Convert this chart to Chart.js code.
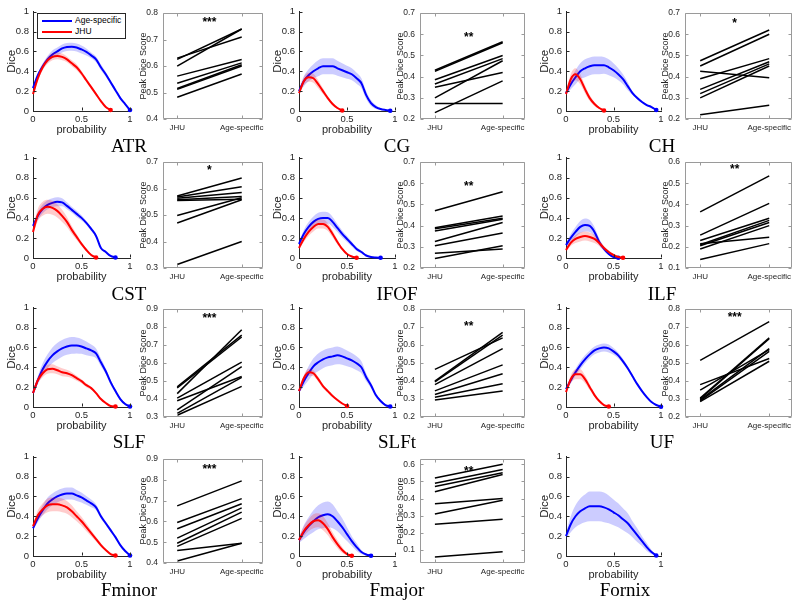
<!DOCTYPE html>
<html><head><meta charset="utf-8">
<script src="https://cdn.jsdelivr.net/npm/chart.js@4/dist/chart.umd.min.js"></script>
<style>
html,body{margin:0;padding:0;background:#fff}
body{width:800px;height:605px;overflow:hidden;position:relative;font-family:"Liberation Sans",Arial,Helvetica,sans-serif}
canvas{position:absolute}
.ttl{position:absolute;font-family:"Liberation Serif","Times New Roman",serif;font-size:19px;color:#000;transform:translate(-50%,-50%);white-space:nowrap;line-height:1}
#legend{position:absolute;left:37px;top:13px;width:87px;height:24px;border:1px solid #262626;background:#fff;z-index:5;font-size:8.5px;color:#000}
#legend .it{position:absolute;left:4px;height:10px;width:82px}
#legend .ln{position:absolute;left:0;top:5px;width:30px;height:2px}
#legend .tx{position:absolute;left:33px;top:0;line-height:11px;white-space:nowrap}
</style></head><body>
<div id="legend">
  <div class="it" style="top:1px"><div class="ln" style="background:#0000ff"></div><div class="tx">Age-specific</div></div>
  <div class="it" style="top:12px"><div class="ln" style="background:#ff0000"></div><div class="tx">JHU</div></div>
</div>
<script>
// ---------- data ----------
const prob = [0,0.05,0.1,0.15,0.2,0.25,0.3,0.35,0.4,0.45,0.5,0.55,0.6,0.65,0.7,0.75,0.8,0.85,0.9,0.95,1];
const diceTicks = [0,0.2,0.4,0.6,0.8,1];
const diceTickLabels = ['0','0.2','0.4','0.6','0.8','1'];
const probTicks = [0,0.5,1];
const probTickLabels = ['0','0.5','1'];
const groupTicks = [1,2];
const groupLabels = ['JHU','Age-specific'];

const atrAge   = [.23,.36,.45,.52,.57,.60,.63,.645,.648,.64,.62,.595,.56,.52,.44,.37,.29,.21,.13,.07,.01];
const atrAgeSd = [.01,.02,.03,.035,.04,.04,.04,.04,.04,.04,.04,.035,.03,.03,.03,.025,.02,.02,.015,.01,.005];
const atrJhu   = [.17,.33,.44,.51,.545,.555,.545,.52,.48,.44,.38,.31,.24,.17,.10,.04,.01];
const atrJhuSd = [.01,.03,.03,.035,.035,.035,.035,.03,.03,.03,.025,.02,.02,.015,.01,.008,.005];

const cgAge   = [.20,.30,.36,.40,.43,.45,.45,.45,.43,.41,.39,.37,.33,.28,.16,.08,.04,.02,.01,.003];
const cgAgeSd = [.02,.05,.06,.07,.08,.08,.08,.08,.075,.07,.065,.06,.055,.05,.04,.03,.02,.01,.005,.003];
const cgJhu   = [.18,.30,.34,.33,.27,.20,.13,.07,.03,.005];
const cgJhuSd = [.02,.04,.045,.045,.04,.03,.02,.015,.01,.005];

const chAge   = [.18,.27,.34,.40,.43,.45,.46,.46,.46,.44,.41,.37,.32,.25,.18,.13,.09,.06,.04,.01];
const chAgeSd = [.02,.05,.07,.08,.09,.09,.09,.09,.085,.08,.07,.06,.05,.04,.02,.015,.01,.01,.008,.005];
const chJhu   = [.17,.32,.37,.32,.22,.13,.07,.03,.005];
const chJhuSd = [.02,.05,.06,.05,.04,.03,.02,.01,.005];

const cstAge   = [.32,.42,.49,.53,.55,.56,.555,.52,.48,.44,.40,.35,.29,.22,.10,.06,.02,.005];
const cstAgeSd = [.02,.04,.045,.045,.045,.045,.04,.035,.03,.03,.025,.02,.02,.015,.01,.008,.005,.003];
const cstJhu   = [.26,.43,.49,.51,.50,.47,.42,.36,.28,.21,.14,.08,.03,.005];
const cstJhuSd = [.03,.06,.07,.07,.07,.065,.06,.05,.04,.03,.02,.015,.01,.005];

const ifofAge   = [.14,.24,.31,.36,.39,.40,.40,.36,.30,.24,.19,.14,.09,.06,.025,.01,.005,.003];
const ifofAgeSd = [.02,.04,.05,.055,.06,.06,.055,.05,.04,.035,.03,.025,.02,.015,.01,.005,.003,.002];
const ifofJhu   = [.10,.19,.26,.31,.34,.34,.31,.24,.16,.09,.04,.015,.003];
const ifofJhuSd = [.02,.03,.04,.045,.045,.045,.04,.035,.025,.015,.01,.005,.003];

const ilfAge   = [.13,.20,.26,.31,.33,.32,.26,.16,.09,.04,.01,.003];
const ilfAgeSd = [.02,.04,.05,.06,.065,.06,.05,.035,.02,.01,.005,.003];
const ilfJhu   = [.08,.15,.19,.21,.22,.21,.19,.15,.10,.06,.03,.01,.003];
const ilfJhuSd = [.02,.03,.04,.045,.045,.045,.04,.03,.02,.015,.01,.005,.003];

const slfAge   = [.14,.27,.38,.46,.52,.56,.59,.61,.62,.62,.61,.59,.57,.54,.45,.36,.25,.16,.08,.03,.005];
const slfAgeSd = [.02,.04,.06,.07,.08,.085,.085,.085,.085,.08,.075,.07,.06,.05,.04,.03,.025,.02,.015,.01,.005];
const slfJhu   = [.14,.27,.34,.38,.385,.37,.35,.34,.32,.29,.26,.22,.19,.14,.08,.04,.01,.005];
const slfJhuSd = [.02,.03,.04,.045,.045,.04,.04,.035,.03,.025,.02,.02,.015,.01,.01,.005,.003,.002];

const slftAge   = [.16,.26,.34,.41,.45,.48,.50,.51,.52,.51,.49,.47,.44,.40,.30,.22,.12,.06,.02,.005];
const slftAgeSd = [.02,.05,.07,.08,.09,.09,.09,.09,.09,.085,.08,.075,.07,.06,.04,.03,.02,.015,.01,.005];
const slftJhu   = [.16,.29,.35,.34,.28,.21,.16,.11,.07,.035,.01];
const slftJhuSd = [.02,.03,.035,.03,.025,.02,.015,.01,.008,.005,.003];

const ufAge   = [.18,.27,.35,.42,.48,.53,.57,.59,.60,.59,.56,.52,.46,.39,.31,.23,.16,.10,.05,.02,.003];
const ufAgeSd = [.02,.03,.035,.04,.04,.04,.04,.04,.04,.04,.035,.03,.025,.02,.015,.01,.01,.008,.005,.003,.002];
const ufJhu   = [.15,.28,.33,.33,.28,.20,.12,.06,.02,.005];
const ufJhuSd = [.02,.04,.05,.05,.04,.03,.02,.01,.005,.003];

const fminAge   = [.28,.38,.46,.53,.57,.60,.62,.63,.63,.61,.59,.56,.53,.49,.40,.33,.26,.19,.11,.05,.005];
const fminAgeSd = [.02,.04,.05,.06,.06,.06,.06,.06,.06,.055,.05,.045,.04,.03,.025,.02,.02,.015,.01,.005,.003];
const fminJhu   = [.30,.41,.47,.51,.52,.52,.51,.49,.45,.40,.35,.29,.23,.17,.11,.06,.02,.005];
const fminJhuSd = [.02,.05,.06,.07,.07,.07,.07,.065,.06,.05,.045,.04,.03,.025,.02,.01,.005,.003];

const fmajAge   = [.16,.24,.30,.35,.39,.41,.42,.40,.35,.29,.22,.15,.09,.04,.015,.003];
const fmajAgeSd = [.03,.07,.09,.11,.12,.13,.13,.12,.10,.09,.07,.05,.04,.02,.01,.003];
const fmajJhu   = [.16,.25,.31,.35,.36,.33,.27,.19,.12,.06,.02,.003];
const fmajJhuSd = [.03,.05,.06,.07,.07,.07,.06,.05,.04,.03,.01,.003];

const fornixAge   = [.20,.32,.40,.45,.48,.50,.50,.50,.49,.47,.44,.41,.37,.33,.27,.21,.15,.09,.04,.005];
const fornixAgeSd = [.03,.08,.11,.13,.14,.15,.15,.15,.15,.14,.13,.12,.11,.10,.08,.07,.05,.04,.02,.005];

// Peak Dice Score pairs (JHU -> Age-specific)
const atrPeakJhu  = [0.63,0.625,0.60,0.562,0.535,0.515,0.512,0.482];
const atrPeakAge  = [0.71,0.74,0.74,0.625,0.612,0.605,0.60,0.57];
const cgPeakJhu   = [0.43,0.425,0.385,0.365,0.35,0.30,0.273,0.23];
const cgPeakAge   = [0.565,0.56,0.50,0.485,0.42,0.475,0.273,0.38];
const chPeakJhu   = [0.475,0.45,0.425,0.39,0.34,0.32,0.30,0.22];
const chPeakAge   = [0.62,0.60,0.395,0.485,0.47,0.46,0.45,0.265];
const cstPeakJhu  = [0.572,0.568,0.563,0.558,0.555,0.498,0.47,0.313];
const cstPeakAge  = [0.64,0.607,0.585,0.57,0.56,0.565,0.558,0.40];
const ifofPeakJhu = [0.47,0.39,0.385,0.375,0.325,0.305,0.27,0.245];
const ifofPeakAge = [0.56,0.445,0.435,0.43,0.415,0.365,0.29,0.305];
const ilfPeakJhu  = [0.365,0.255,0.23,0.215,0.21,0.205,0.19,0.14];
const ilfPeakAge  = [0.535,0.405,0.335,0.245,0.325,0.315,0.30,0.215];
const slfPeakJhu  = [0.468,0.462,0.43,0.405,0.39,0.34,0.32,0.31];
const slfPeakAge  = [0.755,0.745,0.785,0.605,0.525,0.58,0.52,0.47];
const slftPeakJhu = [0.465,0.40,0.395,0.38,0.345,0.325,0.31,0.295];
const slftPeakAge = [0.64,0.67,0.655,0.58,0.49,0.44,0.385,0.345];
const ufPeakJhu   = [0.515,0.38,0.35,0.305,0.30,0.295,0.29,0.285];
const ufPeakAge   = [0.73,0.525,0.575,0.64,0.635,0.58,0.565,0.51];
const fminPeakJhu = [0.675,0.595,0.565,0.52,0.495,0.48,0.46,0.41];
const fminPeakAge = [0.795,0.71,0.685,0.665,0.645,0.615,0.495,0.495];
const fmajPeakJhu = [0.52,0.49,0.47,0.44,0.37,0.31,0.25,0.06];
const fmajPeakAge = [0.60,0.57,0.55,0.54,0.40,0.39,0.28,0.09];

const tractNames = ['ATR','CG','CH','CST','IFOF','ILF','SLF','SLFt','UF','Fminor','Fmajor','Fornix'];
const sigMarks = ['***','**','*','*','**','**','***','**','***','***','**'];
const sigLevels = [0.775,0.60,0.665,0.68,0.60,0.58,0.865,0.72,0.77,0.865,0.575];
const peakTicks = [
  [0.4,0.5,0.6,0.7,0.8],[0.2,0.3,0.4,0.5,0.6,0.7],[0.2,0.3,0.4,0.5,0.6,0.7],
  [0.3,0.4,0.5,0.6,0.7],[0.2,0.3,0.4,0.5,0.6,0.7],[0.1,0.2,0.3,0.4,0.5,0.6],
  [0.3,0.4,0.5,0.6,0.7,0.8,0.9],[0.2,0.3,0.4,0.5,0.6,0.7,0.8],[0.2,0.3,0.4,0.5,0.6,0.7,0.8],
  [0.4,0.5,0.6,0.7,0.8,0.9],[0.1,0.2,0.3,0.4,0.5,0.6]
];
const peakLimits = [[0.4,0.8],[0.2,0.7],[0.2,0.7],[0.3,0.7],[0.2,0.7],[0.1,0.6],[0.3,0.9],[0.2,0.8],[0.2,0.8],[0.4,0.9],[0.025,0.63]];

// ---------- layout ----------
const colDice = [[33,130],[299,395],[566,661]];
const colPeak = [[163,263],[420,525],[685,792]];
const rowDice = [[10,111],[156,258],[306,407],[455,556]];
const rowPeak = [[11,119],[160,268],[307,417],[457,563]];
const titleX = [129,397,662];
const titleY = [145,293,441,589];

const BLUE = '#0000ff', RED = '#ff0000';
const BLUE_F = 'rgba(0,0,255,0.2)', RED_F = 'rgba(255,0,0,0.2)';
const AX = '#262626';
Chart.defaults.font.family = '"Liberation Sans", Arial, Helvetica, sans-serif';
Chart.defaults.color = AX;

const frame = {
  id: 'frame',
  afterDatasetsDraw(chart, args, o) {
    const {ctx, chartArea: a, scales: {x, y}} = chart;
    ctx.save();
    ctx.lineWidth = 1;
    ctx.strokeStyle = o.color;
    const L = Math.round(a.left) + 0.5, R = Math.round(a.right) - 0.5;
    const T = Math.round(a.top) + 0.5, B = Math.round(a.bottom) - 0.5;
    ctx.beginPath();
    if (o.box) { ctx.rect(L, T, R - L, B - T); }
    for (const t of y.ticks) {
      const py = Math.round(y.getPixelForValue(t.value)) + 0.5;
      ctx.moveTo(L, py); ctx.lineTo(L + 3, py);
      if (o.box) { ctx.moveTo(R, py); ctx.lineTo(R - 3, py); }
    }
    for (const t of x.ticks) {
      const px = Math.round(x.getPixelForValue(t.value)) + 0.5;
      ctx.moveTo(px, B); ctx.lineTo(px, B - 3);
      if (o.box) { ctx.moveTo(px, T); ctx.lineTo(px, T + 3); }
    }
    ctx.stroke();
    if (o.sig) {
      ctx.fillStyle = '#000';
      ctx.font = 'bold 12px "Liberation Sans", Arial, sans-serif';
      ctx.textAlign = 'center';
      ctx.textBaseline = 'middle';
      ctx.fillText(o.sig, x.getPixelForValue(1.5), y.getPixelForValue(o.sigY) + 3);
    }
    ctx.restore();
  }
};

function makeCanvas(l, r, t, b, pad) {
  const c = document.createElement('canvas');
  const w = r - l + pad.L + pad.R, h = b - t + pad.T + pad.B;
  c.width = w; c.height = h;
  c.style.left = (l - pad.L) + 'px'; c.style.top = (t - pad.T) + 'px';
  c.style.width = w + 'px'; c.style.height = h + 'px';
  document.body.appendChild(c);
  return c;
}

function pts(vals, sd, sign) {
  return vals.map((v, i) => ({x: prob[i], y: sd ? Math.max(0, v + sign * sd[i]) : v}));
}

function bandSets(vals, sd, fillCol, ord) {
  return [
    {data: pts(vals, sd, 1), borderWidth: 0, pointRadius: 0, fill: false, order: ord + 1, cubicInterpolationMode: 'monotone'},
    {data: pts(vals, sd, -1), borderWidth: 0, pointRadius: 0, fill: '-1', backgroundColor: fillCol, order: ord, cubicInterpolationMode: 'monotone'}
  ];
}
function lineSet(vals, col, ord) {
  const n = vals.length;
  return {data: pts(vals), borderColor: col, borderWidth: 2, backgroundColor: col,
    pointRadius: ctx => ctx.dataIndex === n - 1 ? 2.3 : 0, pointBorderWidth: 0, pointBackgroundColor: col,
    fill: false, order: ord, clip: 6, cubicInterpolationMode: 'monotone'};
}

function makeDice(col, row, age, ageSd, jhu, jhuSd) {
  const pad = {L: 38, T: 8, R: 8, B: 32};
  const c = makeCanvas(colDice[col][0], colDice[col][1], rowDice[row][0], rowDice[row][1], pad);
  let ds = [...bandSets(age, ageSd, BLUE_F, 22)];
  ds.push(lineSet(age, BLUE, 21));
  if (jhu) { ds = ds.concat(bandSets(jhu, jhuSd, RED_F, 19)); ds.push(lineSet(jhu, RED, 18)); }
  new Chart(c, {
    type: 'line',
    data: {datasets: ds},
    options: {
      responsive: false, animation: false, devicePixelRatio: 1, events: [],
      layout: {padding: {left: 0, top: pad.T, right: pad.R, bottom: 0}},
      plugins: {legend: {display: false}, tooltip: {enabled: false}, frame: {color: AX, box: false}},
      scales: {
        x: {type: 'linear', min: 0, max: 1,
          afterFit: s => { s.height = pad.B; },
          afterBuildTicks: s => { s.ticks = probTicks.map(v => ({value: v})); },
          ticks: {callback: (v, i) => probTickLabels[i], font: {size: 9.5}, padding: 3, maxRotation: 0, minRotation: 0, autoSkip: false, color: AX},
          grid: {display: false, drawTicks: false}, border: {display: true, color: AX, width: 1},
          title: {display: true, text: 'probability', font: {size: 11}, color: AX, padding: {top: 0, bottom: 6}}},
        y: {type: 'linear', min: 0, max: 1,
          afterFit: s => { s.width = pad.L; },
          afterBuildTicks: s => { s.ticks = diceTicks.map(v => ({value: v})); },
          ticks: {callback: (v, i) => diceTickLabels[i], font: {size: 9.5}, padding: 4, autoSkip: false, color: AX},
          grid: {display: false, drawTicks: false}, border: {display: true, color: AX, width: 1},
          title: {display: true, text: 'Dice', font: {size: 11.5}, color: AX, padding: {top: 10, bottom: 0}}}
      }
    },
    plugins: [frame]
  });
}

function makePeak(k, col, row, jhu, age) {
  const pad = {L: 36, T: 8, R: 14, B: 16};
  const c = makeCanvas(colPeak[col][0], colPeak[col][1], rowPeak[row][0], rowPeak[row][1], pad);
  const ds = jhu.map((j, i) => ({data: [{x: groupTicks[0], y: j}, {x: groupTicks[1], y: age[i]}],
    borderColor: '#000', borderWidth: 1.5, pointRadius: 0, fill: false}));
  const tk = peakTicks[k];
  new Chart(c, {
    type: 'line',
    data: {datasets: ds},
    options: {
      responsive: false, animation: false, devicePixelRatio: 1, events: [],
      layout: {padding: {left: 0, top: pad.T, right: pad.R, bottom: 0}},
      plugins: {legend: {display: false}, tooltip: {enabled: false},
        frame: {color: '#9a9a9a', box: true, sig: sigMarks[k], sigY: sigLevels[k]}},
      scales: {
        x: {type: 'linear', min: 0.78, max: 2.33,
          afterFit: s => { s.height = pad.B; },
          afterBuildTicks: s => { s.ticks = groupTicks.map(v => ({value: v})); },
          ticks: {callback: (v, i) => groupLabels[i], font: {size: 8}, padding: 4, maxRotation: 0, minRotation: 0, autoSkip: false, color: AX},
          grid: {display: false, drawTicks: false}, border: {display: false}},
        y: {type: 'linear', min: peakLimits[k][0], max: peakLimits[k][1],
          afterFit: s => { s.width = pad.L; },
          afterBuildTicks: s => { s.ticks = tk.map(v => ({value: v})); },
          ticks: {callback: v => v.toFixed(1), font: {size: 8.5}, padding: 5, autoSkip: false, color: AX},
          grid: {display: false, drawTicks: false}, border: {display: false},
          title: {display: true, text: 'Peak Dice Score', font: {size: 9}, color: AX, padding: {top: 11.5, bottom: 0}}}
      }
    },
    plugins: [frame]
  });
}

const diceSeries = [
  [atrAge, atrAgeSd, atrJhu, atrJhuSd], [cgAge, cgAgeSd, cgJhu, cgJhuSd], [chAge, chAgeSd, chJhu, chJhuSd],
  [cstAge, cstAgeSd, cstJhu, cstJhuSd], [ifofAge, ifofAgeSd, ifofJhu, ifofJhuSd], [ilfAge, ilfAgeSd, ilfJhu, ilfJhuSd],
  [slfAge, slfAgeSd, slfJhu, slfJhuSd], [slftAge, slftAgeSd, slftJhu, slftJhuSd], [ufAge, ufAgeSd, ufJhu, ufJhuSd],
  [fminAge, fminAgeSd, fminJhu, fminJhuSd], [fmajAge, fmajAgeSd, fmajJhu, fmajJhuSd], [fornixAge, fornixAgeSd, null, null]
];
const peakSeries = [
  [atrPeakJhu, atrPeakAge], [cgPeakJhu, cgPeakAge], [chPeakJhu, chPeakAge],
  [cstPeakJhu, cstPeakAge], [ifofPeakJhu, ifofPeakAge], [ilfPeakJhu, ilfPeakAge],
  [slfPeakJhu, slfPeakAge], [slftPeakJhu, slftPeakAge], [ufPeakJhu, ufPeakAge],
  [fminPeakJhu, fminPeakAge], [fmajPeakJhu, fmajPeakAge]
];

tractNames.forEach((name, k) => {
  const col = k % 3, row = Math.floor(k / 3);
  const s = diceSeries[k];
  makeDice(col, row, s[0], s[1], s[2], s[3]);
  if (peakSeries[k]) makePeak(k, col, row, peakSeries[k][0], peakSeries[k][1]);
  const d = document.createElement('div');
  d.className = 'ttl';
  d.textContent = name;
  d.style.left = (name === 'Fornix' ? 625 : titleX[col]) + 'px';
  d.style.top = titleY[row] + 'px';
  document.body.appendChild(d);
});
document.body.appendChild(document.getElementById('legend'));
</script>
</body></html>
